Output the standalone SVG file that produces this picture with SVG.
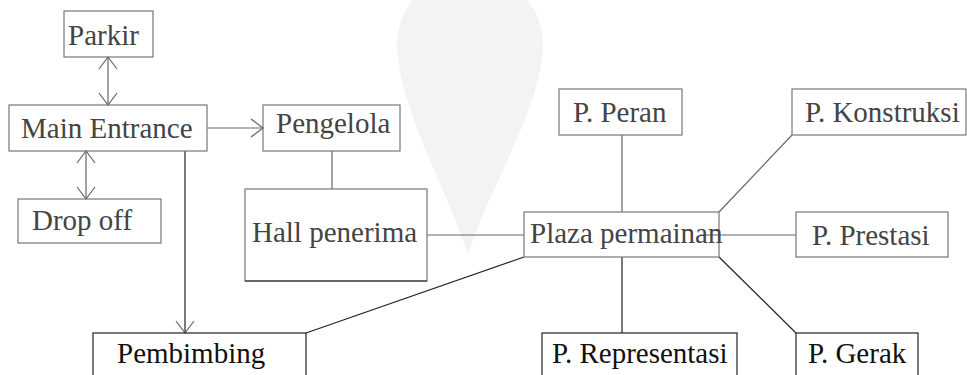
<svg xmlns="http://www.w3.org/2000/svg" width="967" height="375" viewBox="0 0 967 375">
<style>
.box{fill:none;stroke:#777;stroke-width:1.2}
.dark{stroke:#222}
text{font-family:'Liberation Serif',serif;font-size:29px;fill:#444}
.tk{fill:#111}
.c{fill:none;stroke:#666;stroke-width:1.2}
.ck{stroke:#222}
</style>
<defs>
<marker id="ah" viewBox="0 0 14 20" refX="13" refY="10" markerWidth="14" markerHeight="20" markerUnits="userSpaceOnUse" orient="auto-start-reverse">
<path d="M1 1 L13 10 L1 19" fill="none" stroke="#666" stroke-width="1.2"/>
</marker>
</defs>
<rect width="967" height="375" fill="#fff"/>
<path d="M397 45 A73 73 0 0 1 543 45 C541 110 490 185 468 255 C446 185 399 110 397 45 Z" fill="#f3f3f3"/>
<g id="connectors">
<line class="c" x1="108" y1="57" x2="108" y2="105" marker-start="url(#ah)" marker-end="url(#ah)"/>
<line class="c" x1="86" y1="151" x2="86" y2="199" marker-start="url(#ah)" marker-end="url(#ah)"/>
<line class="c" x1="207" y1="128" x2="263" y2="128" marker-end="url(#ah)"/>
<line class="c ck" x1="185" y1="151" x2="185" y2="333" marker-end="url(#ah)"/>
<line class="c" x1="332" y1="151" x2="332" y2="189"/>
<line class="c" x1="427" y1="235" x2="524" y2="235"/>
<line class="c ck" x1="524" y1="257" x2="306" y2="333"/>
<line class="c" x1="622" y1="135" x2="622" y2="212"/>
<line class="c ck" x1="622" y1="257" x2="622" y2="333"/>
<line class="c" x1="719" y1="212" x2="792" y2="135"/>
<line class="c" x1="700" y1="235" x2="796" y2="235"/>
<line class="c ck" x1="719" y1="257" x2="796" y2="333"/>
</g>
<g id="parkir"><rect class="box" x="64" y="11" width="89" height="46"/><text x="68" y="45">Parkir</text></g>
<g id="main-entrance"><rect class="box" x="9" y="105" width="198" height="46"/><text x="21" y="138">Main Entrance</text></g>
<g id="drop-off"><rect class="box" x="18" y="199" width="143" height="44"/><text x="32" y="230">Drop off</text></g>
<g id="pengelola"><rect class="box" x="263" y="105" width="137" height="46"/><text x="276" y="133">Pengelola</text></g>
<g id="hall-penerima"><rect class="box" x="245" y="189" width="182" height="92"/><path d="M245 281 H427" stroke="#222" stroke-width="1.2"/><text x="252" y="242">Hall penerima</text></g>
<g id="plaza-permainan"><rect class="box" x="524" y="212" width="195" height="45"/><text x="530" y="243">Plaza permainan</text></g>
<g id="p-peran"><rect class="box" x="559" y="89" width="123" height="46"/><text x="573" y="122">P. Peran</text></g>
<g id="p-konstruksi"><rect class="box" x="792" y="89" width="174" height="46"/><text x="805" y="122">P. Konstruksi</text></g>
<g id="p-prestasi"><rect class="box" x="796" y="212" width="152" height="45"/><text x="812" y="245">P. Prestasi</text></g>
<g id="pembimbing"><rect class="box dark" x="93" y="333" width="213" height="50"/><text class="tk" x="117" y="363">Pembimbing</text></g>
<g id="p-representasi"><rect class="box dark" x="542" y="333" width="195" height="50"/><text class="tk" x="552" y="363">P. Representasi</text></g>
<g id="p-gerak"><rect class="box dark" x="796" y="333" width="122" height="50"/><text class="tk" x="808" y="363">P. Gerak</text></g>
</svg>
